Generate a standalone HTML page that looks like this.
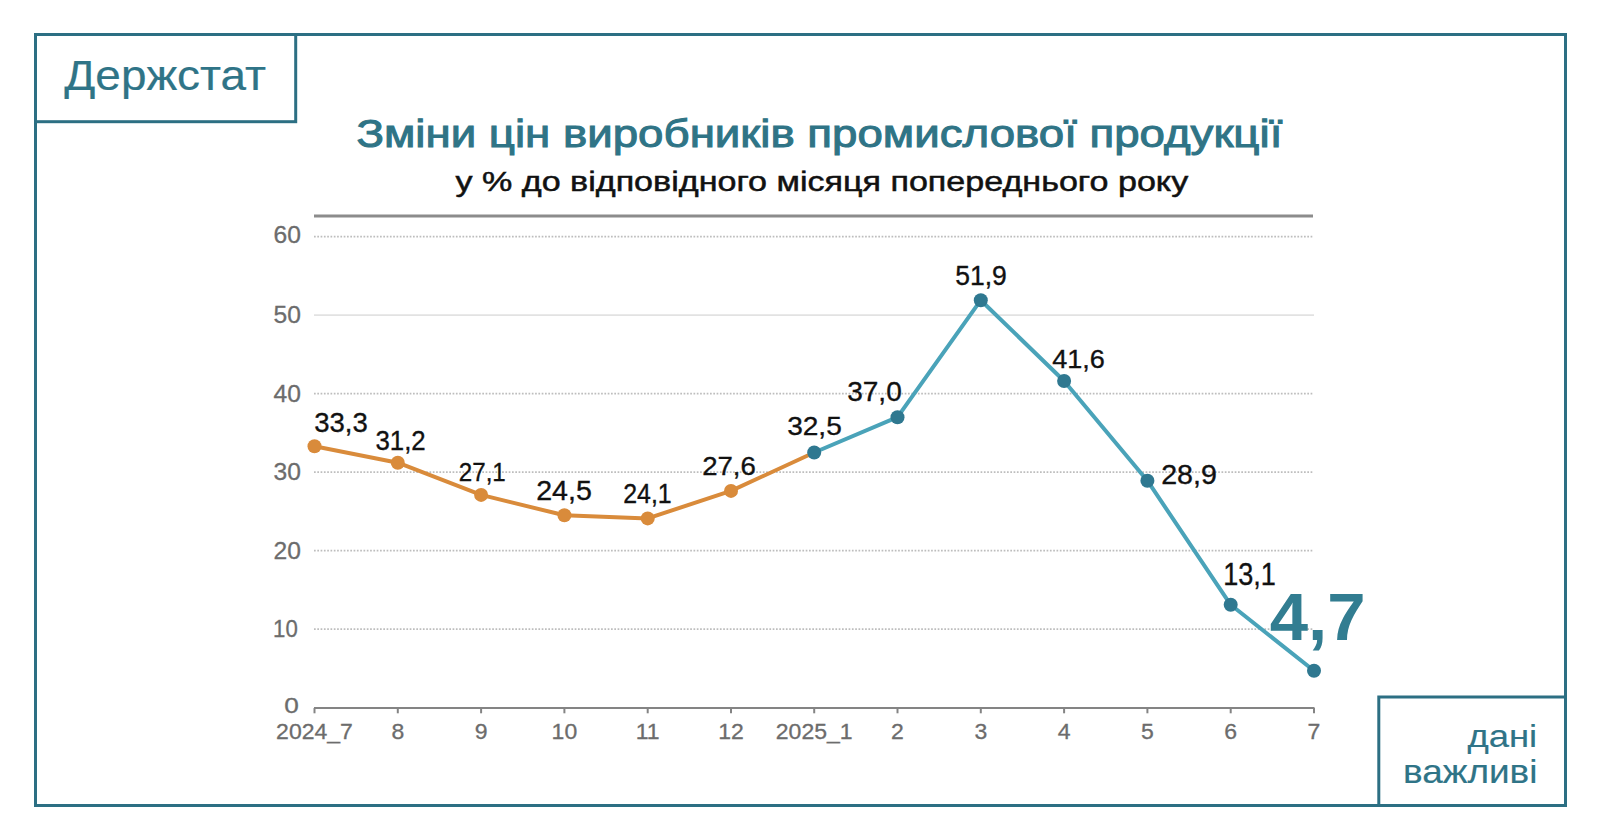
<!DOCTYPE html>
<html><head><meta charset="utf-8"><style>
html,body{margin:0;padding:0;background:#fff;width:1600px;height:840px;overflow:hidden;font-family:"Liberation Sans",sans-serif;}
svg{display:block}
</style></head><body>
<svg width="1600" height="840" viewBox="0 0 1600 840">
<rect x="0" y="0" width="1600" height="840" fill="#fff"/>
<line x1="314" y1="236.6" x2="1313" y2="236.6" stroke="#bdbdbd" stroke-width="1.8" stroke-dasharray="1.7 1.6"/>
<line x1="314" y1="393.6" x2="1313" y2="393.6" stroke="#bdbdbd" stroke-width="1.8" stroke-dasharray="1.7 1.6"/>
<line x1="314" y1="472.1" x2="1313" y2="472.1" stroke="#bdbdbd" stroke-width="1.8" stroke-dasharray="1.7 1.6"/>
<line x1="314" y1="550.6" x2="1313" y2="550.6" stroke="#bdbdbd" stroke-width="1.8" stroke-dasharray="1.7 1.6"/>
<line x1="314" y1="629.1" x2="1313" y2="629.1" stroke="#bdbdbd" stroke-width="1.8" stroke-dasharray="1.7 1.6"/>
<line x1="314" y1="315.1" x2="1314" y2="315.1" stroke="#e2e2e2" stroke-width="1.6"/>
<line x1="314" y1="216" x2="1313" y2="216" stroke="#8c8c8c" stroke-width="3"/>
<line x1="314" y1="708" x2="1314.5" y2="708" stroke="#848484" stroke-width="2"/>
<line x1="314.5" y1="708" x2="314.5" y2="713.3" stroke="#848484" stroke-width="2"/>
<line x1="397.8" y1="708" x2="397.8" y2="713.3" stroke="#848484" stroke-width="2"/>
<line x1="481.1" y1="708" x2="481.1" y2="713.3" stroke="#848484" stroke-width="2"/>
<line x1="564.4" y1="708" x2="564.4" y2="713.3" stroke="#848484" stroke-width="2"/>
<line x1="647.7" y1="708" x2="647.7" y2="713.3" stroke="#848484" stroke-width="2"/>
<line x1="731.0" y1="708" x2="731.0" y2="713.3" stroke="#848484" stroke-width="2"/>
<line x1="814.2" y1="708" x2="814.2" y2="713.3" stroke="#848484" stroke-width="2"/>
<line x1="897.5" y1="708" x2="897.5" y2="713.3" stroke="#848484" stroke-width="2"/>
<line x1="980.8" y1="708" x2="980.8" y2="713.3" stroke="#848484" stroke-width="2"/>
<line x1="1064.1" y1="708" x2="1064.1" y2="713.3" stroke="#848484" stroke-width="2"/>
<line x1="1147.4" y1="708" x2="1147.4" y2="713.3" stroke="#848484" stroke-width="2"/>
<line x1="1230.7" y1="708" x2="1230.7" y2="713.3" stroke="#848484" stroke-width="2"/>
<line x1="1314.0" y1="708" x2="1314.0" y2="713.3" stroke="#848484" stroke-width="2"/>
<text x="284.2" y="713.4" font-family="Liberation Sans" font-size="22" fill="#6c6c6c" stroke="#6c6c6c" stroke-width="0.3" textLength="14.6" lengthAdjust="spacingAndGlyphs">0</text>
<text x="273.1" y="637.2" font-family="Liberation Sans" font-size="23.3" fill="#6c6c6c" stroke="#6c6c6c" stroke-width="0.3" textLength="24.7" lengthAdjust="spacingAndGlyphs">10</text>
<text x="273.6" y="558.7" font-family="Liberation Sans" font-size="23.3" fill="#6c6c6c" stroke="#6c6c6c" stroke-width="0.3" textLength="27.4" lengthAdjust="spacingAndGlyphs">20</text>
<text x="273.6" y="480.2" font-family="Liberation Sans" font-size="23.3" fill="#6c6c6c" stroke="#6c6c6c" stroke-width="0.3" textLength="27.4" lengthAdjust="spacingAndGlyphs">30</text>
<text x="273.6" y="401.7" font-family="Liberation Sans" font-size="23.3" fill="#6c6c6c" stroke="#6c6c6c" stroke-width="0.3" textLength="27.4" lengthAdjust="spacingAndGlyphs">40</text>
<text x="273.6" y="323.2" font-family="Liberation Sans" font-size="23.3" fill="#6c6c6c" stroke="#6c6c6c" stroke-width="0.3" textLength="27.4" lengthAdjust="spacingAndGlyphs">50</text>
<text x="273.6" y="242.5" font-family="Liberation Sans" font-size="23.3" fill="#6c6c6c" stroke="#6c6c6c" stroke-width="0.3" textLength="27.4" lengthAdjust="spacingAndGlyphs">60</text>
<g transform="translate(314.5,739.2) scale(1.06,1)"><text x="0" y="0" text-anchor="middle" font-family="Liberation Sans" font-size="21.7" fill="#6c6c6c" stroke="#6c6c6c" stroke-width="0.3">2024_7</text></g>
<g transform="translate(397.8,739.2) scale(1.06,1)"><text x="0" y="0" text-anchor="middle" font-family="Liberation Sans" font-size="21.7" fill="#6c6c6c" stroke="#6c6c6c" stroke-width="0.3">8</text></g>
<g transform="translate(481.1,739.2) scale(1.06,1)"><text x="0" y="0" text-anchor="middle" font-family="Liberation Sans" font-size="21.7" fill="#6c6c6c" stroke="#6c6c6c" stroke-width="0.3">9</text></g>
<g transform="translate(564.4,739.2) scale(1.06,1)"><text x="0" y="0" text-anchor="middle" font-family="Liberation Sans" font-size="21.7" fill="#6c6c6c" stroke="#6c6c6c" stroke-width="0.3">10</text></g>
<g transform="translate(647.7,739.2) scale(1.06,1)"><text x="0" y="0" text-anchor="middle" font-family="Liberation Sans" font-size="21.7" fill="#6c6c6c" stroke="#6c6c6c" stroke-width="0.3">11</text></g>
<g transform="translate(731.0,739.2) scale(1.06,1)"><text x="0" y="0" text-anchor="middle" font-family="Liberation Sans" font-size="21.7" fill="#6c6c6c" stroke="#6c6c6c" stroke-width="0.3">12</text></g>
<g transform="translate(814.2,739.2) scale(1.06,1)"><text x="0" y="0" text-anchor="middle" font-family="Liberation Sans" font-size="21.7" fill="#6c6c6c" stroke="#6c6c6c" stroke-width="0.3">2025_1</text></g>
<g transform="translate(897.5,739.2) scale(1.06,1)"><text x="0" y="0" text-anchor="middle" font-family="Liberation Sans" font-size="21.7" fill="#6c6c6c" stroke="#6c6c6c" stroke-width="0.3">2</text></g>
<g transform="translate(980.8,739.2) scale(1.06,1)"><text x="0" y="0" text-anchor="middle" font-family="Liberation Sans" font-size="21.7" fill="#6c6c6c" stroke="#6c6c6c" stroke-width="0.3">3</text></g>
<g transform="translate(1064.1,739.2) scale(1.06,1)"><text x="0" y="0" text-anchor="middle" font-family="Liberation Sans" font-size="21.7" fill="#6c6c6c" stroke="#6c6c6c" stroke-width="0.3">4</text></g>
<g transform="translate(1147.4,739.2) scale(1.06,1)"><text x="0" y="0" text-anchor="middle" font-family="Liberation Sans" font-size="21.7" fill="#6c6c6c" stroke="#6c6c6c" stroke-width="0.3">5</text></g>
<g transform="translate(1230.7,739.2) scale(1.06,1)"><text x="0" y="0" text-anchor="middle" font-family="Liberation Sans" font-size="21.7" fill="#6c6c6c" stroke="#6c6c6c" stroke-width="0.3">6</text></g>
<g transform="translate(1314.0,739.2) scale(1.06,1)"><text x="0" y="0" text-anchor="middle" font-family="Liberation Sans" font-size="21.7" fill="#6c6c6c" stroke="#6c6c6c" stroke-width="0.3">7</text></g>
<polyline points="314.5,446.2 397.8,462.7 481.1,494.9 564.4,515.3 647.7,518.4 731.0,490.9 814.2,452.5" fill="none" stroke="#d98b3b" stroke-width="4" stroke-linejoin="round"/>
<polyline points="814.2,452.5 897.5,417.2 980.8,300.2 1064.1,381.0 1147.4,480.7 1230.7,604.8 1314.0,670.7" fill="none" stroke="#4aa3b9" stroke-width="4" stroke-linejoin="round"/>
<circle cx="314.5" cy="446.2" r="7" fill="#d98b3b"/>
<circle cx="397.8" cy="462.7" r="7" fill="#d98b3b"/>
<circle cx="481.1" cy="494.9" r="7" fill="#d98b3b"/>
<circle cx="564.4" cy="515.3" r="7" fill="#d98b3b"/>
<circle cx="647.7" cy="518.4" r="7" fill="#d98b3b"/>
<circle cx="731.0" cy="490.9" r="7" fill="#d98b3b"/>
<circle cx="814.2" cy="452.5" r="7" fill="#2f7890"/>
<circle cx="897.5" cy="417.2" r="7" fill="#2f7890"/>
<circle cx="980.8" cy="300.2" r="7" fill="#2f7890"/>
<circle cx="1064.1" cy="381.0" r="7" fill="#2f7890"/>
<circle cx="1147.4" cy="480.7" r="7" fill="#2f7890"/>
<circle cx="1230.7" cy="604.8" r="7" fill="#2f7890"/>
<circle cx="1314.0" cy="670.7" r="7" fill="#2f7890"/>
<text x="314.20" y="432.02" font-family="Liberation Sans" font-size="27.48" fill="#111" stroke="#111" stroke-width="0.35" textLength="53.55" lengthAdjust="spacingAndGlyphs">33,3</text>
<text x="375.40" y="449.90" font-family="Liberation Sans" font-size="27.02" fill="#111" stroke="#111" stroke-width="0.35" textLength="50.30" lengthAdjust="spacingAndGlyphs">31,2</text>
<text x="458.78" y="480.94" font-family="Liberation Sans" font-size="26.57" fill="#111" stroke="#111" stroke-width="0.35" textLength="47.02" lengthAdjust="spacingAndGlyphs">27,1</text>
<text x="536.20" y="499.55" font-family="Liberation Sans" font-size="27.12" fill="#111" stroke="#111" stroke-width="0.35" textLength="55.65" lengthAdjust="spacingAndGlyphs">24,5</text>
<text x="623.20" y="503.08" font-family="Liberation Sans" font-size="27.48" fill="#111" stroke="#111" stroke-width="0.35" textLength="48.55" lengthAdjust="spacingAndGlyphs">24,1</text>
<text x="702.15" y="474.98" font-family="Liberation Sans" font-size="26.57" fill="#111" stroke="#111" stroke-width="0.35" textLength="53.65" lengthAdjust="spacingAndGlyphs">27,6</text>
<text x="787.15" y="434.98" font-family="Liberation Sans" font-size="26.57" fill="#111" stroke="#111" stroke-width="0.35" textLength="54.65" lengthAdjust="spacingAndGlyphs">32,5</text>
<text x="847.15" y="401.04" font-family="Liberation Sans" font-size="27.48" fill="#111" stroke="#111" stroke-width="0.35" textLength="54.60" lengthAdjust="spacingAndGlyphs">37,0</text>
<text x="955.25" y="284.92" font-family="Liberation Sans" font-size="27.48" fill="#111" stroke="#111" stroke-width="0.35" textLength="51.60" lengthAdjust="spacingAndGlyphs">51,9</text>
<text x="1052.20" y="367.92" font-family="Liberation Sans" font-size="26.57" fill="#111" stroke="#111" stroke-width="0.35" textLength="52.60" lengthAdjust="spacingAndGlyphs">41,6</text>
<text x="1161.15" y="484.02" font-family="Liberation Sans" font-size="27.48" fill="#111" stroke="#111" stroke-width="0.35" textLength="55.70" lengthAdjust="spacingAndGlyphs">28,9</text>
<text x="1223.15" y="585.10" font-family="Liberation Sans" font-size="30.97" fill="#111" stroke="#111" stroke-width="0.35" textLength="52.70" lengthAdjust="spacingAndGlyphs">13,1</text>
<text x="1269.70" y="639.80" font-family="Liberation Sans" font-weight="bold" font-size="66.22" fill="#327d91" textLength="95.80" lengthAdjust="spacingAndGlyphs">4,7</text>
<text x="356.40" y="146.80" font-family="Liberation Sans" font-weight="normal" font-size="38.76" fill="#2f7486" stroke="#2f7486" stroke-width="1.0" textLength="925.95" lengthAdjust="spacingAndGlyphs">Зміни цін виробників промислової продукції</text>
<text x="455.50" y="191.10" font-family="Liberation Sans" font-weight="normal" font-size="28.30" fill="#111" stroke="#111" stroke-width="0.5" textLength="732.70" lengthAdjust="spacingAndGlyphs">у % до відповідного місяця попереднього року</text>
<text x="64.30" y="90.40" font-family="Liberation Sans" font-weight="normal" font-size="42.77" fill="#2f7487" stroke="#2f7487" stroke-width="0.2" textLength="201.75" lengthAdjust="spacingAndGlyphs">Держстат</text>
<text x="1467.40" y="746.50" font-family="Liberation Sans" font-weight="normal" font-size="30.76" fill="#2f7487" stroke="#2f7487" stroke-width="0.15" textLength="69.80" lengthAdjust="spacingAndGlyphs">дані</text>
<text x="1403.00" y="783.20" font-family="Liberation Sans" font-weight="normal" font-size="32.81" fill="#2f7487" stroke="#2f7487" stroke-width="0.15" textLength="134.45" lengthAdjust="spacingAndGlyphs">важливі</text>
<rect x="35.5" y="34.5" width="1530" height="771" fill="none" stroke="#2c6f83" stroke-width="3"/>
<rect x="35.5" y="34.5" width="260.2" height="87.2" fill="none" stroke="#2c6f83" stroke-width="3"/>
<rect x="1378.8" y="697" width="186.7" height="108.5" fill="none" stroke="#2c6f83" stroke-width="3"/>
</svg>
</body></html>
